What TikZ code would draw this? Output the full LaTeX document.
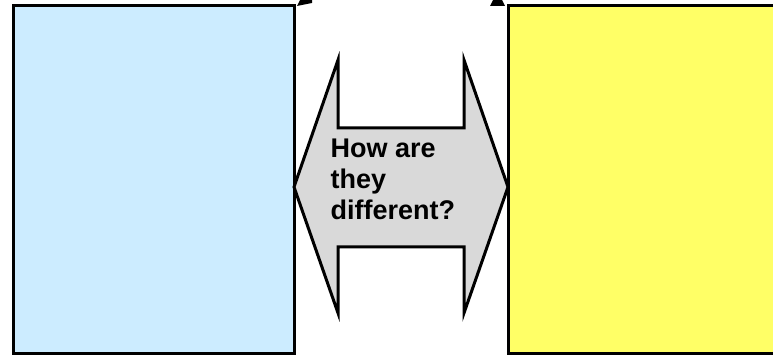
\documentclass[tikz,border=0pt]{standalone}
\usepackage{fontspec}
\setmainfont{Liberation Sans}
\usepackage{xcolor}
\usetikzlibrary{positioning}
\definecolor{paleblue}{HTML}{CCECFF}
\definecolor{paleyellow}{HTML}{FFFF66}
\definecolor{arrowgray}{HTML}{D9D9D9}
\tikzset{panel/.style={line width=3pt,draw=black},
  tipmark/.style={fill=black,draw=none},
  question/.style={anchor=north west,inner sep=0pt,align=left,
    font=\bfseries\fontsize{27}{31}\selectfont}}
\begin{document}
\begin{tikzpicture}[x=1pt,y=-1pt]
\useasboundingbox(0,0)rectangle(773,355);
\clip(0,0)rectangle(773,355);
% the two panels
\draw[panel,fill=paleblue](13.5,5.5)rectangle(294.5,353.5);
\draw[panel,fill=paleyellow](508,5.5)rectangle(790,353.5);
% cut off arrow tips at the top
\fill[tipmark](297,6)--(300,0)--(312,0)--(312,3)--cycle;
\fill[tipmark](490,6)--(493,0)--(502,0)--(505,6)--cycle;
% double arrow between the panels
\draw[panel,fill=arrowgray](294,187)--(338,60)--(338,128)--(464,128)--(464,60)
--(508,187)--(464,313)--(464,247)--(338,247)--(338,313)--cycle;
\node[question](q)at(330.5,138.5){How are\\they\\different?};
\end{tikzpicture}
\end{document}
